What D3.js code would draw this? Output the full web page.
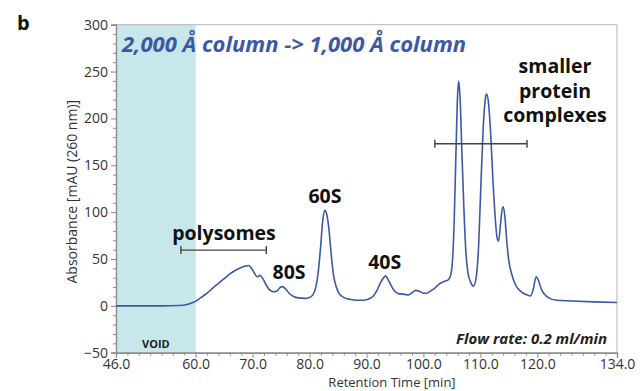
<!DOCTYPE html>
<html><head><meta charset="utf-8">
<script src="https://cdn.jsdelivr.net/npm/d3@7"></script>
<style>
body{margin:0;background:#fff;}
svg{display:block;font-family:"Open Sans",sans-serif;}
</style></head>
<body><svg id="c" width="643" height="391"></svg>
<script>
// ---- data ----
const retentionTime = [46,50,54,57,58.5,59.5,60.3,60.6,61.2,62,63,64,65,66,67,68,68.8,69.3,69.8,70.3,70.8,71.3,71.8,72.4,73,73.6,74.2,74.8,75.2,75.8,76.4,77.2,78,79.2,80,80.6,81.1,81.5,81.9,82.3,82.65,83,83.4,83.8,84.2,84.7,85.2,86,87,88.5,89.5,90.5,91.2,91.8,92.4,93,93.35,93.8,94.3,94.9,95.6,96.5,97.3,98,98.6,99.3,100,100.6,101.3,102,102.8,103.6,104.4,104.8,105.1,105.4,105.7,106.0,106.2,106.45,106.75,107.1,107.45,107.8,108.3,108.8,109.3,109.7,110.1,110.5,110.9,111.1,111.4,111.8,112.2,112.6,112.95,113.2,113.55,113.95,114.3,114.6,115,115.5,116.2,117,118,118.8,119.3,119.8,120.2,120.7,121.3,122,123.4,126,130,134];
const absorbance = [0,0,0,0.3,1.5,3.5,6,7.5,10,13.5,19,24,29,34,38,41,42.5,43,40,35,31,32.5,29,22,17,15,15.5,19.5,20.5,18,13.5,10,8.5,8,9,12,20,35,60,90,102,98,82,55,33,20,13,9,7,6,6,7.5,10.5,16,24,30,32,28,22,16,13,12.5,11.5,14,16.5,15.5,13.5,13.5,16,19,23.5,26,28,33,48,90,160,225,240,220,165,105,58,36,25,21,32,65,130,190,222,226,218,185,135,95,72,69,88,106,96,72,48,34,22,16,12,10.5,18,31,27,18,12,8.5,6,5.2,4.2,3.5];
const xTickValues = [46,60,70,80,90,100,110,120,134];
const yTickValues = [-50,0,50,100,150,200,250,300];
const voidRange = [46,60];
const peakLabels = ["80S","60S","40S"];
const peakLabelTimes = [76.4,82.7,93.2];
const peakLabelValues = [29,110,39];
const bracketNames = ["polysomes","smaller protein complexes"];
const bracketStart = [57.4,102.0];
const bracketEnd = [72.4,118.2];
const bracketLevel = [59.5,173];

// ---- layout ----
const svg = d3.select("#c");
const x = d3.scaleLinear().domain([46,134]).range([116,617]);
const y = d3.scaleLinear().domain([-50,300]).range([352.7,24.7]);
const blue = "#3c58a6";

// void region
svg.append("rect").attr("x",x(voidRange[0])).attr("y",y(300))
  .attr("width",x(voidRange[1])-x(voidRange[0])).attr("height",y(-50)-y(300))
  .attr("fill","#c7e7eb");

// frame top/right
svg.append("line").attr("x1",x(46)).attr("x2",x(134)).attr("y1",y(300)).attr("y2",y(300)).attr("stroke","#b5b5b5").attr("stroke-width",1);
svg.append("line").attr("x1",x(134)).attr("x2",x(134)).attr("y1",y(300)).attr("y2",y(-50)).attr("stroke","#b5b5b5").attr("stroke-width",1);

// axes
function styleAxis(g){
  g.selectAll("path.domain").attr("stroke","#8a8a8a").attr("stroke-width",1.2);
  g.selectAll(".tick line").attr("stroke","#8a8a8a");
  g.selectAll(".tick text").attr("fill","#333").style("font-size","14px").style("font-family","Open Sans");
}
const yMinor = d3.range(-40,300,10).filter(v=>v%50!==0);
svg.append("g").attr("transform",`translate(${x(46)},0)`)
  .call(d3.axisLeft(y).tickValues(yMinor).tickSize(3).tickFormat("")).call(styleAxis);
svg.append("g").attr("transform",`translate(${x(46)},0)`)
  .call(d3.axisLeft(y).tickValues(yTickValues).tickSize(5).tickPadding(3).tickFormat(d3.format("d"))).call(styleAxis);

const xMinor = d3.range(48,134,2).filter(v=>!xTickValues.includes(v));
svg.append("g").attr("transform",`translate(0,${y(-50)})`)
  .call(d3.axisBottom(x).tickValues(xMinor).tickSize(3).tickFormat("")).call(styleAxis);
svg.append("g").attr("transform",`translate(0,${y(-50)})`)
  .call(d3.axisBottom(x).tickValues(xTickValues).tickSize(5).tickPadding(1).tickFormat(d3.format(".1f"))).call(styleAxis);

// axis titles
svg.append("text").attr("transform",`translate(77,${(y(300)+y(-50))/2 + 3}) rotate(-90)`)
  .attr("text-anchor","middle").attr("fill","#333").style("font-size","14px")
  .text("Absorbance [mAU (260 nm)]");
svg.append("text").attr("x",392).attr("y",386.5).attr("text-anchor","middle")
  .attr("fill","#333").style("font-size","13px").text("Retention Time [min]");

// curve
const pts = retentionTime.map((t,i)=>[t,absorbance[i]]);
svg.append("path").datum(pts)
  .attr("d",d3.line().x(d=>x(d[0])).y(d=>y(d[1])).curve(d3.curveMonotoneX))
  .attr("fill","none").attr("stroke",blue).attr("stroke-width",1.6);

// brackets
bracketNames.forEach((n,i)=>{
  const g = svg.append("g").attr("stroke","#444").attr("stroke-width",1.4);
  const yy = y(bracketLevel[i]);
  g.append("line").attr("x1",x(bracketStart[i])).attr("x2",x(bracketEnd[i])).attr("y1",yy).attr("y2",yy);
  g.append("line").attr("x1",x(bracketStart[i])).attr("x2",x(bracketStart[i])).attr("y1",yy-4).attr("y2",yy+4);
  g.append("line").attr("x1",x(bracketEnd[i])).attr("x2",x(bracketEnd[i])).attr("y1",yy-4).attr("y2",yy+4);
});

// labels
svg.append("text").attr("x",224).attr("y",240).attr("text-anchor","middle")
  .style("font-weight","700").style("font-size","19.5px").attr("fill","#111").text("polysomes");
peakLabels.forEach((l,i)=>{
  svg.append("text").attr("x",x(peakLabelTimes[i])).attr("y",y(peakLabelValues[i]))
    .attr("text-anchor","middle").style("font-weight","700").style("font-size","19.5px")
    .attr("fill","#111").text(l);
});
const spc = ["smaller","protein","complexes"];
spc.forEach((l,i)=>{
  svg.append("text").attr("x",555).attr("y",73+i*24.5).attr("text-anchor","middle")
    .style("font-weight","700").style("font-size","19.5px").attr("fill","#111").text(l);
});

svg.append("text").attr("x",122).attr("y",52)
  .style("font-weight","700").style("font-style","italic").style("font-size","22px")
  .attr("fill",blue).text("2,000 Å column -> 1,000 Å column");

svg.append("text").attr("x",607).attr("y",344).attr("text-anchor","end")
  .style("font-weight","700").style("font-style","italic").style("font-size","15px")
  .attr("fill","#222").text("Flow rate: 0.2 ml/min");

svg.append("text").attr("x",x(53)).attr("y",348).attr("text-anchor","middle")
  .style("font-weight","700").style("font-size","11px").attr("fill","#222").text("VOID");

svg.append("text").attr("x",17).attr("y",30)
  .style("font-weight","700").style("font-size","20px").attr("fill","#111").text("b");
</script></body></html>
